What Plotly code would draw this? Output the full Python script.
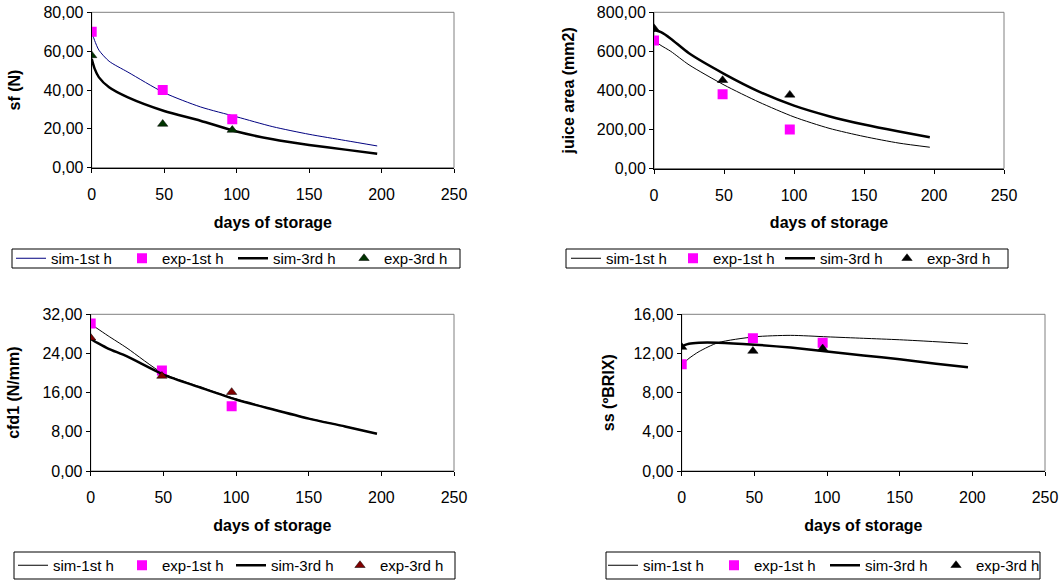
import plotly.graph_objects as go

W, H = 1061, 583

days_sim = [0, 2, 5, 12, 25, 50, 75, 100, 125, 150, 175, 197]
days_exp = [0, 49, 97]

# sf (N)
sf_sim1 = [70, 65.5, 60.5, 54.8, 49.2, 38.6, 31.3, 26.2, 21.1, 17.2, 14.0, 11.2]
sf_sim3 = [56, 51, 46.5, 41.4, 36.2, 29.2, 24.2, 18.6, 14.6, 11.7, 9.3, 7.2]
sf_exp1 = [70, 40, 25]
sf_exp3 = [57.8, 22.5, 19.4]

# juice area (mm2)
ja_sim1 = [650, 645, 630, 600, 531, 428, 340, 264, 206, 164, 130, 109]
ja_sim3 = [706, 706, 698, 665, 590, 485, 394, 322, 268, 225, 189, 160]
ja_exp1 = [655, 380, 200]
ja_exp3 = [718, 452, 377]

# cfd1 (N/mm)
cf_sim1 = [30, 29.6, 29.0, 27.6, 25.1, 19.9, 17.2, 14.7, 12.65, 10.75, 9.12, 7.62]
cf_sim3 = [27, 26.6, 26.1, 25.0, 23.4, 19.7, 17.1, 14.6, 12.6, 10.7, 9.1, 7.6]
cf_exp1 = [30.1, 20.5, 13.2]
cf_exp3 = [27.2, 19.4, 16.1]

# ss (ºBRIX)
ss_sim1 = [11.0, 11.1, 11.5, 12.2, 13.1, 13.7, 13.85, 13.7, 13.55, 13.4, 13.2, 13.0]
ss_sim3 = [12.65, 12.85, 13.0, 13.1, 13.1, 12.9, 12.6, 12.2, 11.8, 11.4, 10.95, 10.6]
ss_exp1 = [10.9, 13.55, 13.1]
ss_exp3 = [12.65, 12.25, 12.5]

series_names = ["sim-1st h", "exp-1st h", "sim-3rd h", "exp-3rd h"]
x_ticks = [0, 50, 100, 150, 200, 250]

FONT = "Liberation Sans, Arial, sans-serif"

panels = [
    dict(ylab="sf (N)", yr=[0, 80], dt=20, s1=sf_sim1, s3=sf_sim3, e1=sf_exp1, e3=sf_exp3,
         c1="#000080", tri="#003300", box=(91.7, 12.3, 454, 167.7), leg=(12, 249, 460, 268),
         lgx=11, ew=66, ysd=18),
    dict(ylab="juice area (mm2)", yr=[0, 800], dt=200, s1=ja_sim1, s3=ja_sim3, e1=ja_exp1, e3=ja_exp3,
         c1="#000000", tri="#000000", box=(654, 12.3, 1004, 168.5), leg=(566, 249, 1008, 268),
         lgx=566, ew=62, ysd=18),
    dict(ylab="cfd1 (N/mm)", yr=[0, 32], dt=8, s1=cf_sim1, s3=cf_sim3, e1=cf_exp1, e3=cf_exp3,
         c1="#000000", tri="#800000", box=(90.7, 314.3, 454, 471), leg=(14, 552, 455, 579),
         lgx=13, ew=64, ysd=18),
    dict(ylab="ss (ºBRIX)", yr=[0, 16], dt=4, s1=ss_sim1, s3=ss_sim3, e1=ss_exp1, e3=ss_exp3,
         c1="#000000", tri="#000000", box=(681.7, 314.3, 1045, 471), leg=(606, 552, 1040, 579),
         lgx=603, ew=66, ysd=14),
]

fig = go.Figure()
layout = dict(
    width=W, height=H, margin=dict(l=0, r=0, t=0, b=0, autoexpand=False),
    paper_bgcolor="white", plot_bgcolor="white",
    font=dict(family=FONT, size=16, color="black"),
    separators=",.", showlegend=True, shapes=[],
)

for i, p in enumerate(panels, start=1):
    xa = "x" if i == 1 else f"x{i}"
    ya = "y" if i == 1 else f"y{i}"
    lg = "legend" if i == 1 else f"legend{i}"
    common = dict(xaxis=xa, yaxis=ya, legend=lg)
    fig.add_trace(go.Scatter(x=days_sim, y=p["s1"], mode="lines", name=series_names[0],
                             line=dict(color=p["c1"], width=1, shape="spline", smoothing=0.7), **common))
    fig.add_trace(go.Scatter(x=days_exp, y=p["e1"], mode="markers", name=series_names[1],
                             marker=dict(symbol="square", size=10, color="#FF00FF"), **common))
    fig.add_trace(go.Scatter(x=days_sim, y=p["s3"], mode="lines", name=series_names[2],
                             line=dict(color="black", width=2.5, shape="spline", smoothing=0.7), **common))
    fig.add_trace(go.Scatter(x=days_exp, y=p["e3"], mode="markers", name=series_names[3],
                             marker=dict(symbol="triangle-up", size=9, color=p["tri"],
                                         line=dict(color="black", width=0.5)), **common))

    x0, y0, x1, y1 = p["box"]
    xd = [x0 / W, x1 / W]
    yd = [1 - y1 / H, 1 - y0 / H]
    axkey_x = "xaxis" if i == 1 else f"xaxis{i}"
    axkey_y = "yaxis" if i == 1 else f"yaxis{i}"
    layout[axkey_x] = dict(
        domain=xd, anchor=ya, range=[0, 250], tickvals=x_ticks, showgrid=False, zeroline=False,
        showline=True, linecolor="black", linewidth=1, ticks="outside", ticklen=4, tickcolor="black",
        ticklabelstandoff=8, tickfont=dict(size=16), automargin=False,
        title=dict(text="<b>days of storage</b>", font=dict(size=16), standoff=14),
    )
    layout[axkey_y] = dict(
        domain=yd, anchor=xa, range=p["yr"], dtick=p["dt"], tick0=0, tickformat=".2f",
        showgrid=False, zeroline=False, showline=True, linecolor="black", linewidth=1,
        ticks="outside", ticklen=4, tickcolor="black", tickfont=dict(size=16), automargin=False,
        title=dict(text=f"<b>{p['ylab']}</b>", font=dict(size=16), standoff=p["ysd"]),
    )
    # plot-area border (top/right grey)
    layout["shapes"].append(dict(type="rect", xref=f"{xa} domain", yref=f"{ya} domain",
                                 x0=0, x1=1, y0=0, y1=1, line=dict(color="#808080", width=1),
                                 layer="below"))
    # legend box
    lx0, ly0, lx1, ly1 = p["leg"]
    layout["shapes"].append(dict(type="rect", xref="paper", yref="paper",
                                 x0=lx0 / W, x1=lx1 / W, y0=1 - ly1 / H, y1=1 - ly0 / H,
                                 line=dict(color="black", width=1)))
    layout[lg] = dict(
        x=p["lgx"] / W, y=1 - ((ly0 + ly1) / 2) / H, xanchor="left", yanchor="middle",
        xref="container", yref="container",
        orientation="h", bgcolor="rgba(0,0,0,0)", borderwidth=0,
        font=dict(size=15, family=FONT), entrywidth=p["ew"], entrywidthmode="pixels",
        itemclick=False, itemdoubleclick=False,
    )

fig.update_layout(**layout)
fig.write_html("out.html", config={"displayModeBar": False},
               post_script="document.body.style.margin='0';")
